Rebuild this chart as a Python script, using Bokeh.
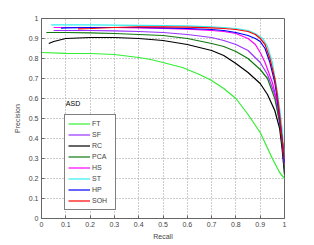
from bokeh.plotting import figure
from bokeh.models import FixedTicker, Label, Legend, LegendItem
from bokeh.embed import file_html
from bokeh.resources import INLINE

ft_r = [0, 0.1, 0.2, 0.3, 0.4, 0.45, 0.5, 0.58, 0.65, 0.7, 0.75, 0.8, 0.85, 0.9, 0.95, 0.98, 1.0]
ft_p = [0.83, 0.826, 0.825, 0.82, 0.805, 0.795, 0.78, 0.755, 0.72, 0.69, 0.65, 0.6, 0.52, 0.43, 0.3, 0.23, 0.2]

sf_r = [0.05, 0.1, 0.2, 0.3, 0.4, 0.5, 0.6, 0.7, 0.75, 0.8, 0.85, 0.9, 0.93, 0.96, 0.98, 0.99, 1.0]
sf_p = [0.94, 0.94, 0.94, 0.938, 0.935, 0.93, 0.92, 0.905, 0.89, 0.87, 0.84, 0.78, 0.72, 0.62, 0.48, 0.37, 0.25]

rc_r = [0.03, 0.05, 0.1, 0.2, 0.3, 0.4, 0.5, 0.6, 0.7, 0.75, 0.8, 0.85, 0.9, 0.93, 0.96, 0.98, 0.99, 1.0]
rc_p = [0.875, 0.885, 0.9, 0.905, 0.905, 0.9, 0.89, 0.87, 0.84, 0.815, 0.775, 0.73, 0.675, 0.62, 0.54, 0.45, 0.35, 0.22]

pca_r = [0.02, 0.1, 0.2, 0.3, 0.4, 0.5, 0.6, 0.7, 0.75, 0.8, 0.85, 0.9, 0.93, 0.96, 0.98, 0.99, 1.0]
pca_p = [0.93, 0.93, 0.928, 0.925, 0.92, 0.915, 0.9, 0.875, 0.86, 0.835, 0.8, 0.745, 0.7, 0.6, 0.48, 0.38, 0.25]

hs_r = [0.05, 0.1, 0.2, 0.3, 0.4, 0.5, 0.6, 0.7, 0.75, 0.8, 0.85, 0.88, 0.9, 0.92, 0.95, 0.97, 0.98, 0.99, 1.0]
hs_p = [0.955, 0.955, 0.955, 0.955, 0.953, 0.95, 0.947, 0.94, 0.935, 0.925, 0.9, 0.87, 0.83, 0.78, 0.68, 0.58, 0.5, 0.4, 0.27]

st_r = [0.04, 0.1, 0.2, 0.3, 0.4, 0.5, 0.6, 0.7, 0.75, 0.8, 0.85, 0.88, 0.91, 0.93, 0.95, 0.97, 0.98, 0.99, 1.0]
st_p = [0.968, 0.968, 0.968, 0.967, 0.966, 0.965, 0.963, 0.958, 0.955, 0.95, 0.94, 0.925, 0.9, 0.86, 0.78, 0.64, 0.55, 0.45, 0.3]

hp_r = [0.08, 0.1, 0.2, 0.3, 0.4, 0.5, 0.6, 0.7, 0.75, 0.8, 0.85, 0.88, 0.9, 0.92, 0.94, 0.96, 0.97, 0.98, 0.99, 1.0]
hp_p = [0.952, 0.953, 0.955, 0.955, 0.955, 0.953, 0.95, 0.945, 0.94, 0.93, 0.915, 0.9, 0.885, 0.85, 0.78, 0.68, 0.6, 0.5, 0.4, 0.28]

soh_r = [0.15, 0.2, 0.3, 0.4, 0.5, 0.6, 0.7, 0.75, 0.8, 0.85, 0.88, 0.9, 0.92, 0.94, 0.96, 0.97, 0.98, 0.99, 1.0]
soh_p = [0.948, 0.95, 0.955, 0.958, 0.958, 0.957, 0.953, 0.95, 0.945, 0.935, 0.92, 0.9, 0.87, 0.8, 0.7, 0.62, 0.52, 0.4, 0.3]

names = ["FT", "SF", "RC", "PCA", "HS", "ST", "HP", "SOH"]
colors = ["#33ee33", "#9933ff", "#000000", "#117711", "#ff00ff", "#33eeee", "#0000ff", "#ff0000"]
series = [(ft_r, ft_p), (sf_r, sf_p), (rc_r, rc_p), (pca_r, pca_p),
          (hs_r, hs_p), (st_r, st_p), (hp_r, hp_p), (soh_r, soh_p)]

ticks = [0, 0.1, 0.2, 0.3, 0.4, 0.5, 0.6, 0.7, 0.8, 0.9, 1]
FONT = "Liberation Sans"

p = figure(frame_width=243, frame_height=200, output_backend="svg", toolbar_location=None,
           x_range=(0, 1), y_range=(0, 1),
           min_border_left=41, min_border_top=18, min_border_right=20, min_border_bottom=24)
p.background_fill_color = "white"
p.border_fill_color = "white"
p.outline_line_color = "#666666"
p.outline_line_width = 1

items = []
for name, col, (r, pr) in zip(names, colors, series):
    rend = p.line(r, pr, line_color=col, line_width=1.2)
    items.append(LegendItem(label=name, renderers=[rend]))

for ax in (p.xaxis[0], p.yaxis[0]):
    ax.ticker = FixedTicker(ticks=ticks)
    ax.major_label_overrides = {0: "0", 1: "1"}
    ax.major_tick_in = 3
    ax.major_tick_out = 0
    ax.minor_tick_in = 0
    ax.minor_tick_out = 0
    ax.axis_line_color = "#666666"
    ax.major_tick_line_color = "#666666"
    ax.major_label_text_font = FONT
    ax.major_label_text_font_size = "7px"
    ax.axis_label_text_font = FONT
    ax.axis_label_text_font_size = "7px"
    ax.axis_label_text_font_style = "normal"
    ax.major_label_standoff = 3

p.xaxis.axis_label = "Recall"
p.yaxis.axis_label = "Precision"
p.xaxis.axis_label_standoff = 3
p.yaxis.axis_label_standoff = 5

for g in (p.xgrid[0], p.ygrid[0]):
    g.ticker = FixedTicker(ticks=ticks)
    g.grid_line_color = "#999999"
    g.grid_line_dash = "1 2"
    g.grid_line_width = 1

legend = Legend(items=items, location=(23, 8))
legend.label_text_font = FONT
legend.label_text_font_size = "7px"
legend.glyph_width = 22
legend.glyph_height = 11
legend.label_height = 11
legend.label_standoff = 2
legend.spacing = 0
legend.padding = 3
legend.margin = 0
legend.border_line_color = "black"
legend.border_line_width = 1
legend.background_fill_alpha = 1
p.add_layout(legend, "center")

p.add_layout(Label(x=0.1, y=0.575, text="ASD", text_font=FONT, text_font_size="7px",
                   text_baseline="middle", text_color="black"))

open("out.html", "w").write(file_html(p, INLINE))
